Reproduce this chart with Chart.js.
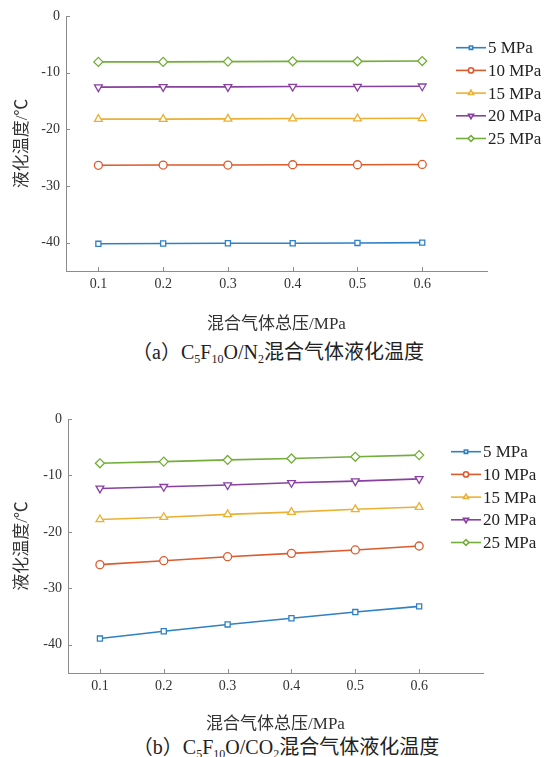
<!DOCTYPE html>
<html>
<head>
<meta charset="utf-8">
<script src="https://cdn.jsdelivr.net/npm/chart.js@4/dist/chart.umd.min.js"></script>
<style>
    html, body { margin: 0; padding: 0; background: #fff; }
    body { width: 545px; height: 757px; position: relative; overflow: hidden; }
    .plot { position: absolute; left: 0; width: 545px; height: 335px; }
    .caption {
        position: absolute;
        transform: translate(-50%, -50%);
        white-space: nowrap;
        font-family: "Liberation Serif", "Noto Sans CJK SC", serif;
        font-size: 20px;
        line-height: 22px;
        color: #222;
    }
    .caption sub { font-size: 12px; vertical-align: -4px; line-height: 0; }
</style>
</head>
<body>
<div class="plot" style="top:0"><canvas id="chart-n2" width="545" height="335"></canvas></div>
<div class="plot" style="top:400px"><canvas id="chart-co2" width="545" height="335"></canvas></div>
<div class="caption" style="left:278px; top:352px">（a）C<sub>5</sub>F<sub>10</sub>O/N<sub>2</sub>混合气体液化温度</div>
<div class="caption" style="left:286px; top:747px">（b）C<sub>5</sub>F<sub>10</sub>O/CO<sub>2</sub>混合气体液化温度</div>

<script>
// 混合气体总压 (MPa)
const pressureMPa = [0.1, 0.2, 0.3, 0.4, 0.5, 0.6];
const seriesLabels = ["5 MPa", "10 MPa", "15 MPa", "20 MPa", "25 MPa"];
const yTickValues = [0, -10, -20, -30, -40];

// (a) C5F10O/N2
const n2_5 = [-40.2, -40.15, -40.1, -40.1, -40.05, -40.0];
const n2_10 = [-26.35, -26.3, -26.3, -26.25, -26.25, -26.2];
const n2_15 = [-18.2, -18.2, -18.15, -18.1, -18.1, -18.05];
const n2_20 = [-12.55, -12.5, -12.5, -12.45, -12.45, -12.4];
const n2_25 = [-8.1, -8.1, -8.05, -8.0, -8.0, -7.95];

// (b) C5F10O/CO2
const co2_5 = [-38.9, -37.6, -36.4, -35.3, -34.2, -33.2];
const co2_10 = [-25.8, -25.1, -24.4, -23.8, -23.2, -22.5];
const co2_15 = [-17.8, -17.4, -16.9, -16.5, -16.0, -15.6];
const co2_20 = [-12.3, -12.0, -11.7, -11.3, -11.0, -10.6];
const co2_25 = [-7.85, -7.55, -7.25, -7.0, -6.7, -6.4];

const colors = ["#2f80c4", "#dc5a2c", "#ecb033", "#8841a0", "#73ad3a"];
const markers = [
    { style: "rect", rotation: 0, radius: 3.6 },
    { style: "circle", rotation: 0, radius: 4 },
    { style: "triangle", rotation: 0, radius: 4.5 },
    { style: "triangle", rotation: 180, radius: 4.5 },
    { style: "rectRot", rotation: 0, radius: 4.5 },
];

const SERIF = "'Liberation Serif', serif";
const TITLE_FONT = "'Liberation Serif', 'Noto Sans CJK SC', serif";
const AXIS_COLOR = "#8c8c8c";

const makeDatasets = (seriesList) =>
    seriesList.map((values, i) => ({
        label: seriesLabels[i],
        data: values.map((v, j) => ({ x: pressureMPa[j], y: v })),
        borderColor: colors[i],
        backgroundColor: "#ffffff",
        borderWidth: 1.6,
        pointStyle: markers[i].style,
        pointRotation: markers[i].rotation,
        pointRadius: markers[i].radius,
        pointBorderWidth: 1.3,
        pointBackgroundColor: "#ffffff",
        pointBorderColor: colors[i],
        tension: 0,
    }));

// MATLAB-like inward ticks + legend with line and marker
const matlabStyle = {
    id: "matlabStyle",
    afterDraw(chart, args, opts) {
        const ctx = chart.ctx;
        const area = chart.chartArea;
        const xs = chart.scales.x;
        const ys = chart.scales.y;
        ctx.save();
        ctx.strokeStyle = AXIS_COLOR;
        ctx.lineWidth = 1;
        ctx.beginPath();
        xs.ticks.forEach((t) => {
            const px = Math.round(xs.getPixelForValue(t.value)) + 0.5;
            ctx.moveTo(px, area.bottom);
            ctx.lineTo(px, area.bottom - 4);
        });
        ys.ticks.forEach((t) => {
            const py = Math.round(ys.getPixelForValue(t.value)) + 0.5;
            ctx.moveTo(area.left, py);
            ctx.lineTo(area.left + 4, py);
        });
        ctx.stroke();

        // legend
        const x0 = area.right + opts.dx;
        let y = area.top + opts.dy;
        ctx.font = "17px " + SERIF;
        ctx.textBaseline = "middle";
        ctx.textAlign = "left";
        chart.data.datasets.forEach((ds) => {
            ctx.strokeStyle = ds.borderColor;
            ctx.lineWidth = 1.6;
            ctx.beginPath();
            ctx.moveTo(x0, y);
            ctx.lineTo(x0 + 30, y);
            ctx.stroke();
            ctx.fillStyle = "#ffffff";
            Chart.helpers.drawPoint(
                ctx,
                {
                    pointStyle: ds.pointStyle,
                    rotation: ds.pointRotation,
                    radius: ds.pointRadius * 0.65,
                    borderWidth: 1.2,
                },
                x0 + 15,
                y
            );
            ctx.fillStyle = "#222";
            ctx.fillText(ds.label, x0 + 32, y + 1);
            y += 22.7;
        });
        ctx.restore();
    },
};

const initChart = (canvasId, seriesList, box, legendPos) => {
    return new Chart(document.getElementById(canvasId), {
        type: "line",
        data: { datasets: makeDatasets(seriesList) },
        plugins: [matlabStyle],
        options: {
            responsive: false,
            animation: false,
            layout: {
                padding: { left: 0, top: box.top, right: 545 - box.right, bottom: 0 },
            },
            plugins: {
                legend: { display: false },
                tooltip: { enabled: false },
                matlabStyle: legendPos,
            },
            scales: {
                x: {
                    type: "linear",
                    min: 0.05,
                    max: 0.7,
                    afterBuildTicks: (scale) => {
                        scale.ticks = pressureMPa.map((v) => ({ value: v }));
                    },
                    afterFit: (scale) => {
                        scale.height = 335 - box.bottom;
                    },
                    border: { display: true, color: AXIS_COLOR, width: 1 },
                    grid: { display: false, drawTicks: false },
                    ticks: {
                        color: "#333",
                        font: { family: SERIF, size: 14 },
                        padding: 5,
                        maxRotation: 0,
                        callback: (v) => v.toFixed(1),
                    },
                    title: {
                        display: true,
                        text: "混合气体总压/MPa",
                        color: "#333",
                        font: { family: TITLE_FONT, size: 17 },
                        padding: { top: 0, bottom: 0 },
                    },
                },
                y: {
                    type: "linear",
                    min: -45,
                    max: 0,
                    afterBuildTicks: (scale) => {
                        scale.ticks = yTickValues.map((v) => ({ value: v }));
                    },
                    afterFit: (scale) => {
                        scale.width = box.left;
                    },
                    border: { display: true, color: AXIS_COLOR, width: 1 },
                    grid: { display: false, drawTicks: false },
                    ticks: {
                        color: "#333",
                        font: { family: SERIF, size: 14 },
                        padding: 6,
                    },
                    title: {
                        display: true,
                        text: "液化温度/℃",
                        color: "#333",
                        font: { family: TITLE_FONT, size: 17 },
                        padding: { top: 12, bottom: 0 },
                    },
                },
            },
        },
    });
};

const start = () => {
    window.chartN2 = initChart(
        "chart-n2",
        [n2_5, n2_10, n2_15, n2_20, n2_25],
        { left: 66, right: 487, top: 16, bottom: 271 },
        { dx: -31, dy: 31.7 }
    );
    window.chartCO2 = initChart(
        "chart-co2",
        [co2_5, co2_10, co2_15, co2_20, co2_25],
        { left: 68, right: 483, top: 19, bottom: 273 },
        { dx: -32, dy: 32.7 }
    );
};

Promise.all([
    document.fonts.load("14px 'Liberation Serif'"),
    document.fonts.load("17px 'Noto Sans CJK SC'", "混合气体"),
])
    .catch(() => {})
    .then(start);
</script>
</body>
</html>
